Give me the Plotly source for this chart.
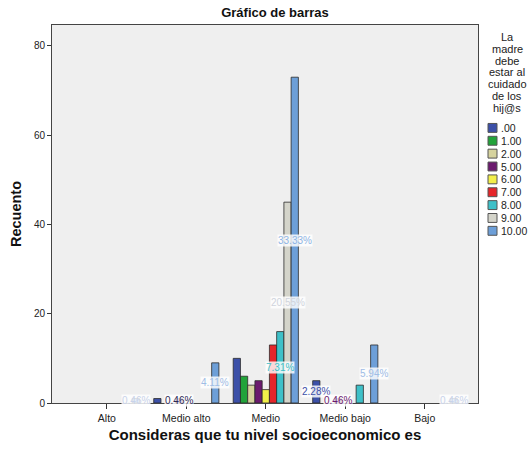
import plotly.graph_objects as go

# Socio-economic level categories (x axis)
categories = ["Alto", "Medio alto", "Medio", "Medio bajo", "Bajo"]

# Answer groups for "La madre debe estar al cuidado de los hij@s"
series_names = [".00", "1.00", "2.00", "5.00", "6.00", "7.00", "8.00", "9.00", "10.00"]

# Counts per answer group, one value per category
counts = {
    ".00":   [0, 1, 10, 5, 0],
    "1.00":  [0, 0, 6, 0, 0],
    "2.00":  [0, 0, 4, 0, 0],
    "5.00":  [0, 1, 5, 1, 0],
    "6.00":  [0, 0, 3, 0, 0],
    "7.00":  [0, 0, 13, 0, 0],
    "8.00":  [0, 0, 16, 4, 0],
    "9.00":  [0, 0, 45, 0, 0],
    "10.00": [1, 9, 73, 13, 1],
}

# Total number of respondents (base for the percentage labels)
total_n = 219

series_colors = ["#3c50a8", "#22a33a", "#d6d39e", "#6b1a6e", "#f2ef4a",
                 "#e5262a", "#3ec0c8", "#d4d4ca", "#6d9fd8"]

legend_title_lines = ["La", "madre", "debe", "estar al", "cuidado", "de los", "hij@s"]

# Percentage labels drawn on the chart: (category, series, text colour)
shown_labels = [
    ("Alto", "10.00", "#c9d3ea"),
    ("Medio alto", "5.00", "#2d2a55"),
    ("Medio alto", "10.00", "#9fbde6"),
    ("Medio", "8.00", "#3ec0c8"),
    ("Medio", "9.00", "#d0d4dc"),
    ("Medio", "10.00", "#8fb4e4"),
    ("Medio bajo", ".00", "#3c50a8"),
    ("Medio bajo", "5.00", "#6b1a6e"),
    ("Medio bajo", "10.00", "#9fbde6"),
    ("Bajo", "10.00", "#c9d3ea"),
]

font_family = "Liberation Sans, Arial, sans-serif"
bar_gap = 0.18

W, H = 531, 452
M_L, M_R, M_T, M_B = 52, 53, 25, 45
plot_w = W - M_L - M_R
plot_h = H - M_T - M_B


def to_paper(px, py):
    """Convert page pixel coordinates to paper coordinates."""
    return (px - M_L) / plot_w, (H - M_B - py) / plot_h


fig = go.Figure()
for name, color in zip(series_names, series_colors):
    fig.add_trace(go.Bar(
        x=categories,
        y=[v if v else None for v in counts[name]],
        name=name,
        showlegend=False,
        marker=dict(color=color, line=dict(color="#2a2a2a", width=0.8)),
    ))

# Percentage labels at the centre of each labelled bar
n_series = len(series_names)
slot = (1 - bar_gap) / n_series
annotations = []
for cat, name, tcolor in shown_labels:
    ci = categories.index(cat)
    si = series_names.index(name)
    value = counts[name][ci]
    annotations.append(dict(
        x=ci + (si - (n_series - 1) / 2) * slot,
        y=value / 2,
        xref="x", yref="y",
        text=f"{100 * value / total_n:.2f}%",
        showarrow=False,
        font=dict(family=font_family, size=10, color=tcolor),
        bgcolor="rgba(255,255,255,0.82)",
        borderpad=0,
    ))

# Legend block to the right of the plot: centred title, then colour keys
shapes = []
title_cx = 507
for i, line in enumerate(legend_title_lines):
    lx, ly = to_paper(title_cx, 37 + 12 * i)
    annotations.append(dict(
        x=lx, y=ly, xref="paper", yref="paper",
        text=line, showarrow=False, xanchor="center", yanchor="middle",
        font=dict(family=font_family, size=11, color="#222222"),
    ))
for i, (name, color) in enumerate(zip(series_names, series_colors)):
    cy = 129 + 13 * i
    x0, y0 = to_paper(488, cy + 4.5)
    x1, y1 = to_paper(497, cy - 4.5)
    shapes.append(dict(
        type="rect", xref="paper", yref="paper",
        x0=x0, y0=y0, x1=x1, y1=y1,
        fillcolor=color, line=dict(color="#555555", width=1),
    ))
    tx, ty = to_paper(499, cy)
    annotations.append(dict(
        x=tx, y=ty, xref="paper", yref="paper",
        text=name, showarrow=False, xanchor="left", yanchor="middle",
        font=dict(family=font_family, size=10.5, color="#222222"),
    ))

fig.update_layout(
    width=W, height=H,
    margin=dict(l=M_L, r=M_R, t=M_T, b=M_B),
    paper_bgcolor="white",
    plot_bgcolor="#efefef",
    barmode="group",
    bargap=bar_gap,
    bargroupgap=0,
    showlegend=False,
    font=dict(family=font_family, size=10, color="#222222"),
    title=dict(
        text="<b>Gráfico de barras</b>",
        x=275 / W, xanchor="center",
        y=1 - 12 / H, yanchor="middle",
        font=dict(size=13, color="#111111"),
    ),
    xaxis=dict(
        type="category",
        range=[-0.69, 4.67],
        showgrid=False,
        ticks="outside", ticklen=5, tickcolor="#333333",
        showline=True, linecolor="#444444", mirror=True,
        tickfont=dict(size=10.5),
        title=dict(text="<b>Consideras que tu nivel socioeconomico es</b>",
                   font=dict(size=15, color="#111111"), standoff=6),
    ),
    yaxis=dict(
        range=[0, 84.7],
        tickvals=[0, 20, 40, 60, 80],
        showgrid=False, zeroline=False,
        ticks="outside", ticklen=4, tickcolor="#333333",
        showline=True, linecolor="#444444", mirror=True,
        tickfont=dict(size=10),
        title=dict(text="<b>Recuento</b>", font=dict(size=14.5, color="#111111"), standoff=8),
    ),
    annotations=annotations,
    shapes=shapes,
)

fig.write_html("out.html")
